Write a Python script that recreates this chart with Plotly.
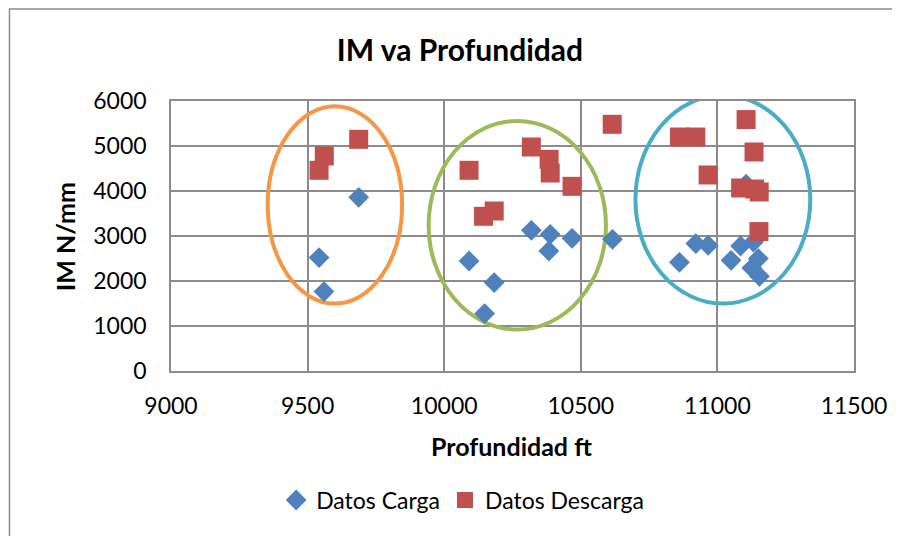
import plotly.graph_objects as go

# Datos Carga (blue diamonds)
carga_depth = [9542, 9560, 9687, 10091, 10148, 10183, 10319, 10383, 10388, 10468, 10616,
               10861, 10921, 10966, 11050, 11085, 11105, 11126, 11132, 11150, 11154]
carga_im = [2520, 1764, 3860, 2444, 1276, 1964, 3127, 2667, 3038, 2949, 2927,
            2416, 2831, 2793, 2460, 2778, 4150, 2289, 2867, 2498, 2104]

# Datos Descarga (red squares)
descarga_depth = [9542, 9561, 9687, 10091, 10144, 10183, 10319, 10384, 10388, 10468, 10615,
                  10861, 10921, 10966, 11085, 11105, 11134, 11136, 11152, 11153]
descarga_im = [4460, 4778, 5149, 4460, 3438, 3556, 4978, 4704, 4400, 4104, 5482,
               5200, 5200, 4356, 4067, 5587, 4867, 4044, 3098, 3978]

# grouping ellipses: (x0, x1, y0, y1, colour)
groups = [
    (9354, 9846, 1498, 5882, "#F79646"),
    (9943, 10592, 920, 5556, "#9BBB59"),
    (10700, 11340, 1498, 6127, "#4BACC6"),
]

FONT = "Lato"

fig = go.Figure()
fig.add_trace(go.Scatter(
    x=carga_depth, y=carga_im, mode="markers", name="Datos Carga",
    marker=dict(symbol="diamond", size=16, color="#4F81BD"),
))
fig.add_trace(go.Scatter(
    x=descarga_depth, y=descarga_im, mode="markers", name="Datos Descarga",
    marker=dict(symbol="square", size=19, color="#C0504D"),
))

for x0, x1, y0, y1, c in groups:
    fig.add_shape(type="circle", xref="x", yref="y", x0=x0, x1=x1, y0=y0, y1=y1,
                  line=dict(color=c, width=4), layer="between")

# outer chart frame
fig.add_shape(type="rect", xref="paper", yref="paper", x0=-0.2365, x1=1.2, y0=-0.8, y1=1.341,
              line=dict(color="#8c8c8c", width=1.5), layer="below")

grid = dict(showgrid=True, gridcolor="#8c8c8c", gridwidth=1.5, zeroline=False,
            showline=True, linecolor="#8c8c8c", linewidth=1.5, mirror=True,
            ticks="", tickformat="d", tickfont=dict(family=FONT, size=23, color="black"))

fig.update_xaxes(range=[9000, 11500], dtick=500, ticklabelstandoff=14, **grid)
fig.update_yaxes(range=[0, 6000], dtick=1000, ticklabelstandoff=18, **grid)

# axis titles
fig.add_annotation(text="<b>Profundidad ft</b>", xref="paper", yref="paper", x=0.499, y=-0.278,
                   showarrow=False, xanchor="center", yanchor="middle",
                   font=dict(family=FONT, size=25, color="black"))
fig.add_annotation(text="<b>IM N/mm</b>", xref="paper", yref="paper", x=-0.155, y=0.496,
                   showarrow=False, xanchor="center", yanchor="middle", textangle=-90,
                   font=dict(family=FONT, size=25, color="black"))

fig.update_layout(
    width=900, height=536,
    margin=dict(l=163, r=54, t=93, b=173),
    paper_bgcolor="white", plot_bgcolor="white",
    title=dict(text="<b>IM va Profundidad</b>", x=452 / 900, xanchor="center",
               y=1 - 42 / 536, yanchor="middle", font=dict(family=FONT, size=30, color="black")),
    legend=dict(orientation="h", x=0.427, xanchor="center", y=-0.478, yanchor="middle",
                font=dict(family=FONT, size=23, color="black"), itemwidth=30),
    showlegend=True,
)

fig.write_html("out.html")
